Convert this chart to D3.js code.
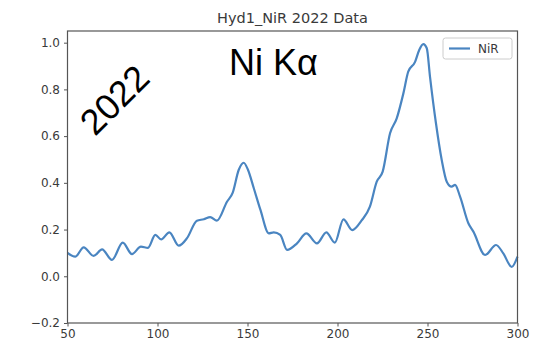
<!DOCTYPE html>
<html>
<head>
<meta charset="utf-8">
<script src="https://cdn.jsdelivr.net/npm/d3@7"></script>
<style>
  body { margin: 0; background: #fff; }
  svg text { font-family: "DejaVu Sans", sans-serif; }
</style>
</head>
<body>
<svg id="chart" width="544" height="346"></svg>
<script>
// energy axis (x) and normalised NiR intensity (y)
const energy = [50, 54.3, 59, 64.5, 69.2, 74.7, 80.7, 85.8, 90.8, 94.7, 98.8, 102, 106.6, 111.8, 116.4,
  121.9, 125.7, 129.3, 133, 138.6, 141.8, 145.1, 147.9, 150.3, 153.5, 157.2, 161.8, 164.6, 168.2,
  172, 177.5, 182.7, 188.6, 193.8, 198.5, 203.3, 208.2, 213.3, 218, 221.8, 225.1, 229.2, 232.9,
  236.6, 239.3, 243.1, 245.4, 247.7, 249.6, 251.4, 254.7, 257.9, 260.7, 263.4, 265.3, 268.1,
  272.7, 275.5, 282, 288.1, 292.1, 296.8, 300];
const nir = [0.10, 0.084, 0.124, 0.087, 0.115, 0.070, 0.144, 0.095, 0.127, 0.122, 0.177, 0.158, 0.188,
  0.131, 0.163, 0.238, 0.244, 0.253, 0.238, 0.319, 0.358, 0.455, 0.486, 0.455, 0.377, 0.284, 0.184,
  0.188, 0.177, 0.113, 0.141, 0.184, 0.141, 0.188, 0.144, 0.244, 0.198, 0.238, 0.298, 0.405, 0.448,
  0.612, 0.676, 0.783, 0.876, 0.918, 0.969, 0.994, 0.976, 0.854, 0.655, 0.498, 0.405, 0.384, 0.391,
  0.341, 0.227, 0.191, 0.091, 0.134, 0.098, 0.040, 0.084];
const xTicks = [50, 100, 150, 200, 250, 300];
const yTicks = [-0.2, 0, 0.2, 0.4, 0.6, 0.8, 1.0];

const margin = { top: 31, right: 26.5, bottom: 23, left: 67.5 };
const width = 544;
const height = 346;

const svg = d3.select('#chart');
const x = d3.scaleLinear().domain([50, 300]).range([margin.left, width - margin.right]);
const y = d3.scaleLinear().domain([-0.2, 1.05]).range([height - margin.bottom, margin.top]);

const axisColor = '#555';
const labelColor = '#3a3a3a';

const data = energy.map((e, i) => ({ x: e, y: nir[i] }));

// curve
svg.append('path')
  .datum(data)
  .attr('fill', 'none')
  .attr('stroke', '#4a85c1')
  .attr('stroke-width', 2.2)
  .attr('stroke-linejoin', 'round')
  .attr('d', d3.line().x((d) => x(d.x)).y((d) => y(d.y)).curve(d3.curveMonotoneX));

// axes
const xAxis = (g) => {
  g.attr('transform', `translate(0,${height - margin.bottom})`)
    .call(d3.axisBottom(x).tickValues(xTicks).tickSize(3.5).tickSizeOuter(0).tickPadding(3))
    .call((g) => g.select('.domain').remove());
  g.selectAll('.tick line').attr('stroke', axisColor);
  g.selectAll('.tick text').attr('fill', labelColor).attr('font-size', 12)
    .attr('font-family', '"DejaVu Sans", sans-serif');
};
const yAxis = (g) => {
  g.attr('transform', `translate(${margin.left},0)`)
    .call(d3.axisLeft(y).tickValues(yTicks).tickFormat(d3.format('.1f')).tickSize(3.5).tickSizeOuter(0).tickPadding(4))
    .call((g) => g.select('.domain').remove());
  g.selectAll('.tick line').attr('stroke', axisColor);
  g.selectAll('.tick text').attr('fill', labelColor).attr('font-size', 12)
    .attr('font-family', '"DejaVu Sans", sans-serif');
};
svg.append('g').call(xAxis);
svg.append('g').call(yAxis);

// frame
svg.append('rect')
  .attr('x', margin.left)
  .attr('y', margin.top)
  .attr('width', width - margin.left - margin.right)
  .attr('height', height - margin.top - margin.bottom)
  .attr('fill', 'none')
  .attr('stroke', axisColor)
  .attr('stroke-width', 1.2);

// title
svg.append('text')
  .attr('x', (margin.left + width - margin.right) / 2)
  .attr('y', 23)
  .attr('text-anchor', 'middle')
  .attr('font-size', 14.5)
  .attr('fill', labelColor)
  .text('Hyd1_NiR 2022 Data');

// annotations
svg.append('text')
  .attr('x', 229)
  .attr('y', 75)
  .attr('font-size', 36)
  .attr('fill', '#000')
  .style('font-family', '"Liberation Sans", Arial, sans-serif')
  .text('Ni Kα');

svg.append('text')
  .attr('transform', 'translate(95,137) rotate(-45)')
  .attr('font-size', 36)
  .attr('fill', '#000')
  .style('font-family', '"Liberation Sans", Arial, sans-serif')
  .text('2022');

// legend
const legend = svg.append('g').attr('transform', 'translate(443,38)');
legend.append('rect')
  .attr('width', 69)
  .attr('height', 21)
  .attr('rx', 2.5)
  .attr('fill', '#fff')
  .attr('fill-opacity', 0.8)
  .attr('stroke', '#ccc');
legend.append('line')
  .attr('x1', 6).attr('x2', 27)
  .attr('y1', 10.5).attr('y2', 10.5)
  .attr('stroke', '#4a85c1')
  .attr('stroke-width', 2.2);
legend.append('text')
  .attr('x', 35)
  .attr('y', 15)
  .attr('font-size', 12)
  .attr('fill', labelColor)
  .text('NiR');
</script>
</body>
</html>
